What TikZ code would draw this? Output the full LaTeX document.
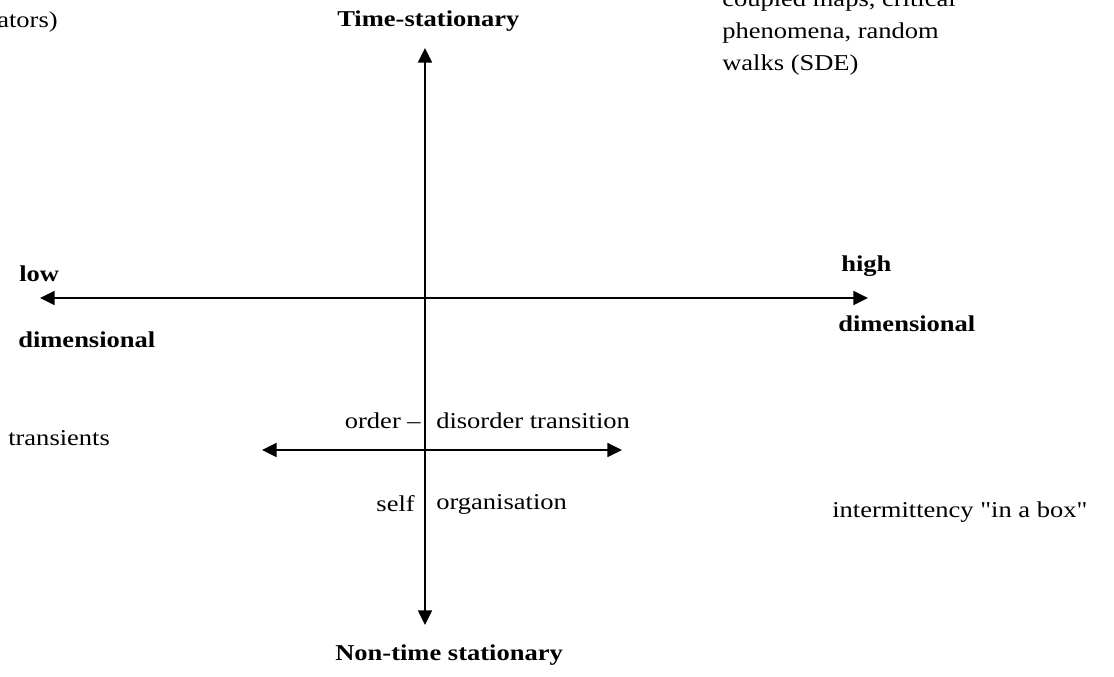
\documentclass[tikz,border=0pt]{standalone}
\usepackage{fontspec}
\setmainfont{Liberation Serif}[Ligatures=TeXOff,FakeStretch=1.17]
\usetikzlibrary{arrows.meta}
\tikzset{
  ax/.style={line width=1.3pt,{Triangle[length=11pt,width=10.5pt]}-{Triangle[length=11pt,width=10.5pt]}},
  lbl/.style={inner sep=0pt,font=\fontsize{17}{24}\selectfont},
  blbl/.style={lbl,font=\fontsize{17}{24}\selectfont\bfseries},
}
\begin{document}
\begin{tikzpicture}[x=0.75pt,y=-0.75pt]
\useasboundingbox (0,0) rectangle (1114,677);
% axes end points
\coordinate (vt) at (425,48);
\coordinate (vb) at (425,625);
\coordinate (hl) at (40,298);
\coordinate (hr) at (868,298);
\coordinate (sl) at (262,450);
\coordinate (sr) at (622,450);
\draw[ax] (vb) -- (vt);
\draw[ax] (hl) -- (hr);
\draw[ax] (sl) -- (sr);
% labels
\node[lbl,anchor=west] (tl) at (-3,22) {ators)};
\node[blbl,anchor=west] (top) at (337,21) {Time-stationary};
\node[lbl,anchor=base west,align=left] (tr) at (722,71) {coupled maps, critical\\phenomena, random\\walks (SDE)};
\node[blbl,anchor=west] (low) at (19,274) {low};
\node[blbl,anchor=west] (ldim) at (18,340) {dimensional};
\node[blbl,anchor=west] (high) at (841,266) {high};
\node[blbl,anchor=west] (hdim) at (838,324) {dimensional};
\node[lbl,anchor=west] (trans) at (8,438) {transients};
\node[lbl,anchor=east] (ord) at (421,421) {order –};
\node[lbl,anchor=west] (dis) at (436,421) {disorder transition};
\node[lbl,anchor=east] (self) at (415,504) {self};
\node[lbl,anchor=west] (org) at (436,504) {organisation};
\node[lbl,anchor=west] (int) at (832,512) {intermittency "in a box"};
\node[blbl,anchor=west] (bot) at (335,655) {Non-time stationary};
\end{tikzpicture}
\end{document}
